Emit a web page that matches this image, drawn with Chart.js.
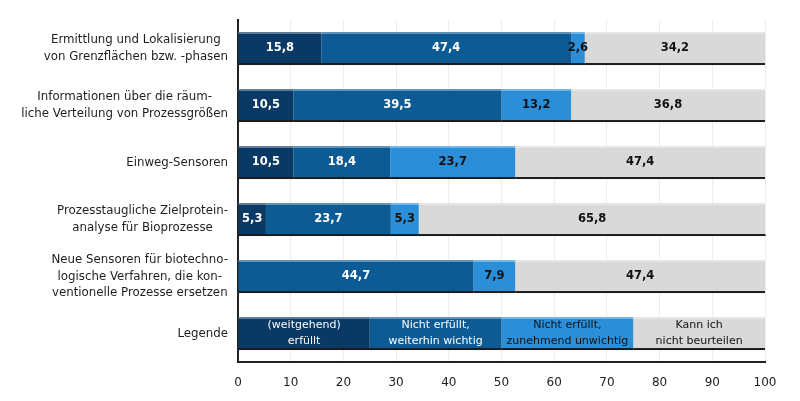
<!DOCTYPE html>
<html>
<head>
<meta charset="utf-8">
<script src="https://cdn.jsdelivr.net/npm/chart.js@4"></script>
<style>
  html,body{margin:0;padding:0;background:#fff;}
  #wrap{width:800px;height:401px;position:relative;}
</style>
</head>
<body>
<div id="wrap"><canvas id="c"></canvas></div>
<script>
const categories = [
  ["Ermittlung und Lokalisierung", "von Grenzflächen bzw. -phasen"],
  ["Informationen über die räum-", "liche Verteilung von Prozessgrößen"],
  ["Einweg-Sensoren"],
  ["Prozesstaugliche Zielprotein-", "analyse für Bioprozesse"],
  ["Neue Sensoren für biotechno-", "logische Verfahren, die kon-", "ventionelle Prozesse ersetzen"],
  ["Legende"]
];
const erfuellt        = [15.8, 10.5, 10.5,  5.3,  0.0, 25];
const wichtig         = [47.4, 39.5, 18.4, 23.7, 44.7, 25];
const unwichtig       = [ 2.6, 13.2, 23.7,  5.3,  7.9, 25];
const nichtBeurteilen = [34.2, 36.8, 47.4, 65.8, 47.4, 25];
const seriesNames = [
  ["(weitgehend)", "erfüllt"],
  ["Nicht erfüllt,", "weiterhin wichtig"],
  ["Nicht erfüllt,", "zunehmend unwichtig"],
  ["Kann ich", "nicht beurteilen"]
];
const legendRow = 5;

const colors = ["#0a3965", "#0d5b95", "#2a8fd8", "#d9d9d9"];
const labelColors = ["#ffffff", "#ffffff", "#111111", "#111111"];
const FONT = "'DejaVu Sans', Verdana, sans-serif";

const barDeco = {
  id: 'barDeco',
  afterDatasetsDraw(chart) {
    const ctx = chart.ctx;
    ctx.save();
    chart.data.datasets.forEach((ds, d) => {
      const meta = chart.getDatasetMeta(d);
      meta.data.forEach((el, i) => {
        const v = ds.data[i];
        if (!v) return;
        const p = el.getProps(['x', 'y', 'base', 'height'], true);
        const x0 = Math.min(p.x, p.base), x1 = Math.max(p.x, p.base);
        const top = p.y - p.height / 2, bot = p.y + p.height / 2;
        ctx.fillStyle = 'rgba(255,255,255,0.35)';
        ctx.fillRect(x0, top, x1 - x0, 2);
        ctx.fillStyle = '#1c1c1c';
        ctx.fillRect(x0, bot - 2, x1 - x0, 2);
      });
    });
    ctx.textAlign = 'center';
    ctx.textBaseline = 'middle';
    chart.data.datasets.forEach((ds, d) => {
      const meta = chart.getDatasetMeta(d);
      meta.data.forEach((el, i) => {
        const v = ds.data[i];
        if (!v) return;
        const p = el.getProps(['x', 'y', 'base'], true);
        const cx = (p.x + p.base) / 2;
        ctx.fillStyle = labelColors[d];
        if (i === legendRow) {
          ctx.font = "11px " + FONT;
          const lines = seriesNames[d];
          ctx.fillText(lines[0], cx, p.y - 8);
          ctx.fillText(lines[1], cx, p.y + 8);
        } else {
          ctx.font = "bold 11.5px " + FONT;
          ctx.fillText(v.toFixed(1).replace('.', ','), cx, p.y);
        }
      });
    });
    ctx.restore();
  },
  afterDraw(chart) {
    const ctx = chart.ctx;
    const y = chart.scales.y;
    ctx.save();
    ctx.font = "11.8px " + FONT;
    ctx.fillStyle = '#1e1e1e';
    ctx.textAlign = 'center';
    ctx.textBaseline = 'middle';
    const right = chart.chartArea.left - 10;
    const lh = 16.5;
    categories.forEach((lines, i) => {
      const cy = y.getPixelForValue(i);
      const w = Math.max(...lines.map(l => ctx.measureText(l).width));
      const cx = right - w / 2;
      lines.forEach((l, k) => {
        ctx.fillText(l, cx, cy + (k - (lines.length - 1) / 2) * lh);
      });
    });
    ctx.restore();
  }
};

const mk = (label, data, d) => ({
  label, data,
  backgroundColor: colors[d],
  borderWidth: 0,
  barPercentage: 0.58,
  categoryPercentage: 1.0
});

new Chart(document.getElementById('c'), {
  type: 'bar',
  data: {
    labels: categories,
    datasets: [
      mk(seriesNames[0].join(' '), erfuellt, 0),
      mk(seriesNames[1].join(' '), wichtig, 1),
      mk(seriesNames[2].join(' '), unwichtig, 2),
      mk(seriesNames[3].join(' '), nichtBeurteilen, 3)
    ]
  },
  options: {
    indexAxis: 'y',
    responsive: true,
    maintainAspectRatio: false,
    animation: false,
    layout: { padding: { top: 20, right: 35, bottom: 0, left: 0 } },
    plugins: { legend: { display: false }, tooltip: { enabled: false } },
    scales: {
      x: {
        stacked: true,
        min: 0, max: 100,
        ticks: { stepSize: 10, color: '#222', font: { family: FONT, size: 12 }, padding: 14 },
        grid: { color: '#f1ede3', drawTicks: false },
        border: { display: true, color: '#222', width: 2 },
        afterFit(s) { s.height = 39; }
      },
      y: {
        stacked: true,
        ticks: { display: false },
        grid: { display: false },
        border: { display: true, color: '#222', width: 2 },
        afterFit(s) { s.width = 238; }
      }
    }
  },
  plugins: [barDeco]
});
</script>
</body>
</html>
